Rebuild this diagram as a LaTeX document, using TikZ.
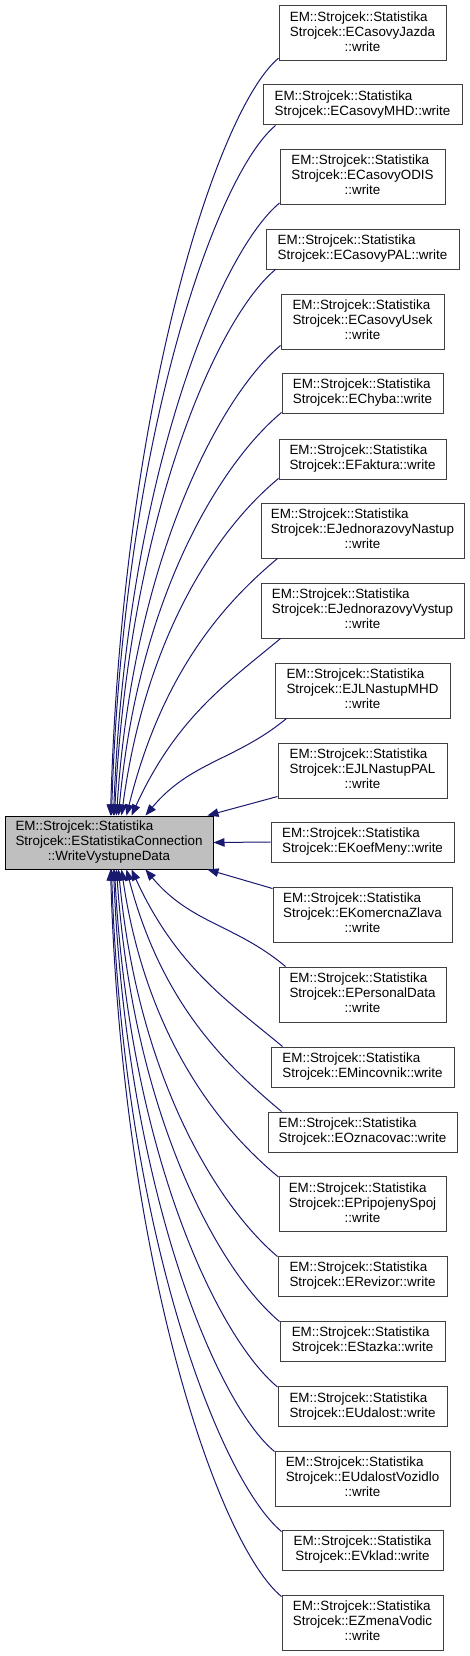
\documentclass[tikz,border=0pt]{standalone}
\usepackage{fontspec}
\setmainfont{Liberation Sans}
\usetikzlibrary{arrows.meta,calc}
\definecolor{edgeblue}{HTML}{191970}
\definecolor{bordergray}{HTML}{404040}
\definecolor{mainfill}{HTML}{BFBFBF}
\newcommand\dthree[2]{\begin{tabular}{@{}c@{}}\multicolumn{1}{@{}l@{}}{EM::Strojcek::Statistika}\\#1\\#2\end{tabular}}
\newcommand\dtwo[1]{\begin{tabular}{@{}c@{}}\multicolumn{1}{@{}l@{}}{EM::Strojcek::Statistika}\\#1\end{tabular}}
\tikzset{
  cls/.style={draw=bordergray, fill=white, line width=1pt, inner sep=0pt, font=\fontsize{13.4}{15}\selectfont},
  tall/.style={cls, minimum height=55pt},
  short/.style={cls, minimum height=40pt},
  mainbox/.style={cls, draw=black, fill=mainfill, minimum width=208pt, minimum height=53pt},
  edge/.style={draw=edgeblue, line width=1pt, -{Triangle[length=11pt,width=8.5pt]}}
}
\begin{document}
\begin{tikzpicture}[x=1pt,y=-1pt]
\useasboundingbox (0,0) rectangle (469,1656);
\node[mainbox] (m) at (109,842.5) {\dthree{Strojcek::EStatistikaConnection}{::WriteVystupneData}};
\node[tall, minimum width=167pt] (c1) at (362.5,33.2) {\dthree{Strojcek::ECasovyJazda}{::write}};
\node[short, minimum width=199pt] (c2) at (362.5,105) {\dtwo{Strojcek::ECasovyMHD::write}};
\node[tall, minimum width=165pt] (c3) at (362.5,177) {\dthree{Strojcek::ECasovyODIS}{::write}};
\node[short, minimum width=193pt] (c4) at (362.5,249) {\dtwo{Strojcek::ECasovyPAL::write}};
\node[tall, minimum width=163pt] (c5) at (362.5,321.5) {\dthree{Strojcek::ECasovyUsek}{::write}};
\node[short, minimum width=161pt] (c6) at (362.5,393) {\dtwo{Strojcek::EChyba::write}};
\node[short, minimum width=167pt] (c7) at (362.5,459) {\dtwo{Strojcek::EFaktura::write}};
\node[tall, minimum width=203pt] (c8) at (362.5,530.5) {\dthree{Strojcek::EJednorazovyNastup}{::write}};
\node[tall, minimum width=203pt] (c9) at (362.5,610.5) {\dthree{Strojcek::EJednorazovyVystup}{::write}};
\node[tall, minimum width=175pt] (c10) at (362.5,690.5) {\dthree{Strojcek::EJLNastupMHD}{::write}};
\node[tall, minimum width=169pt] (c11) at (362.5,770.5) {\dthree{Strojcek::EJLNastupPAL}{::write}};
\node[short, minimum width=183pt] (c12) at (362.5,842) {\dtwo{Strojcek::EKoefMeny::write}};
\node[tall, minimum width=179pt] (c13) at (362.5,914.5) {\dthree{Strojcek::EKomercnaZlava}{::write}};
\node[tall, minimum width=167pt] (c14) at (362.5,994.5) {\dthree{Strojcek::EPersonalData}{::write}};
\node[short, minimum width=183pt] (c15) at (362.5,1067) {\dtwo{Strojcek::EMincovnik::write}};
\node[short, minimum width=189pt] (c16) at (362.5,1132) {\dtwo{Strojcek::EOznacovac::write}};
\node[tall, minimum width=167pt] (c17) at (362.5,1204) {\dthree{Strojcek::EPripojenySpoj}{::write}};
\node[short, minimum width=169pt] (c18) at (362.5,1276) {\dtwo{Strojcek::ERevizor::write}};
\node[short, minimum width=165pt] (c19) at (362.5,1341) {\dtwo{Strojcek::EStazka::write}};
\node[short, minimum width=169pt] (c20) at (362.5,1406.5) {\dtwo{Strojcek::EUdalost::write}};
\node[tall, minimum width=175pt] (c21) at (362.5,1478.5) {\dthree{Strojcek::EUdalostVozidlo}{::write}};
\node[short, minimum width=161pt] (c22) at (362.5,1550) {\dtwo{Strojcek::EVklad::write}};
\node[tall, minimum width=161pt] (c23) at (362.5,1622.5) {\dthree{Strojcek::EZmenaVodic}{::write}};
% upper edges
\draw[edge] ($(c1.south west)+(0,-3)$) .. controls +(-60,50) and +(12,-417) .. ($(m.north west)+(106,0)$);
\draw[edge] ($(c2.south west)+(13,0)$) .. controls +(-59,49) and +(12,-380) .. ($(m.north west)+(107,0)$);
\draw[edge] ($(c3.south west)+(0,-2)$) .. controls +(-60,50) and +(13,-338) .. ($(m.north west)+(109,0)$);
\draw[edge] ($(c4.south west)+(10,0)$) .. controls +(-58,48) and +(15,-301) .. ($(m.north west)+(110,0)$);
\draw[edge] ($(c5.south west)+(0,-4)$) .. controls +(-59,49) and +(17,-259) .. ($(m.north west)+(112,0)$);
\draw[edge] ($(c6.south west)+(0,-1)$) .. controls +(-59,49) and +(20,-222) .. ($(m.north west)+(114,0)$);
\draw[edge] ($(c7.south west)+(0,-1)$) .. controls +(-57,47) and +(25,-186) .. ($(m.north west)+(117,0)$);
\draw[edge] ($(c8.south west)+(17,0)$) .. controls +(-54,45) and +(35,-142) .. ($(m.north west)+(122,0)$);
\draw[edge] ($(c9.south west)+(20,0)$) .. controls +(-54,45) and +(45,-98) .. ($(m.north west)+(127,0)$);
\draw[edge] ($(c10.south west)+(12,0)$) .. controls +(-51,42) and +(45,-54) .. ($(m.north west)+(141,0)$);
\draw[edge] ($(c11.south west)+(0,-2)$) -- ($(m.north east)+(-6,0)$);
\draw[edge] (c12.west) -- (m.east);
\draw[edge] ($(c13.north west)+(0,2)$) -- ($(m.south east)+(-6,0)$);
% lower edges
\draw[edge] ($(c14.north west)+(7,0)$) .. controls +(-50,-42) and +(45,54) .. ($(m.south west)+(141,0)$);
\draw[edge] ($(c15.north west)+(12,0)$) .. controls +(-54,-45) and +(45,98) .. ($(m.south west)+(127,0)$);
\draw[edge] ($(c16.north west)+(14,0)$) .. controls +(-56,-47) and +(35,134) .. ($(m.south west)+(122,0)$);
\draw[edge] ($(c17.north west)+(0,1)$) .. controls +(-57,-47) and +(25,170) .. ($(m.south west)+(117,0)$);
\draw[edge] ($(c18.north west)+(0,1)$) .. controls +(-57,-48) and +(20,213) .. ($(m.south west)+(114,0)$);
\draw[edge] ($(c19.north west)+(0,1)$) .. controls +(-59,-49) and +(17,249) .. ($(m.south west)+(112,0)$);
\draw[edge] ($(c20.north west)+(0,1)$) .. controls +(-59,-49) and +(15,285) .. ($(m.south west)+(110,0)$);
\draw[edge] ($(c21.north west)+(0,1)$) .. controls +(-58,-48) and +(13,321) .. ($(m.south west)+(109,0)$);
\draw[edge] ($(c22.north west)+(0,2)$) .. controls +(-61,-51) and +(12,365) .. ($(m.south west)+(107,0)$);
\draw[edge] ($(c23.north west)+(0,2)$) .. controls +(-62,-51) and +(12,400) .. ($(m.south west)+(106,0)$);
\end{tikzpicture}
\end{document}
